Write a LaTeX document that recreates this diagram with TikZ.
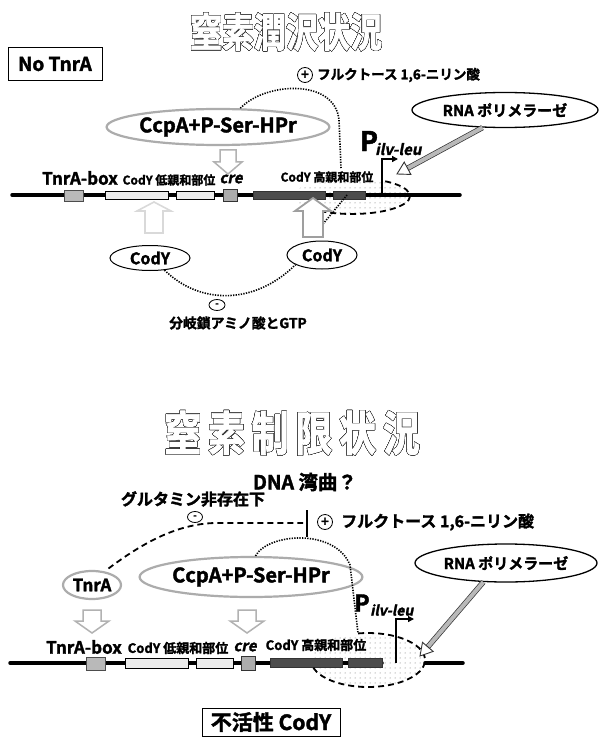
\documentclass[tikz,border=0pt]{standalone}
\usepackage{fontspec}
\setmainfont{Noto Sans CJK JP}[BoldFont={Noto Sans CJK JP Bold}, BoldFeatures={FakeBold=1.8}]
\usepackage[copies]{contour}
\usetikzlibrary{arrows.meta,patterns.meta,shapes.geometric,calc}
\contourlength{0.35pt}
\contournumber{32}
\newcommand\fsz[1]{\fontsize{#1}{#1}\selectfont}
\newcommand\slnt{\addfontfeatures{FakeSlant=0.2}}
% style, x, base y, head-base y, tip y, shaft half width, head half width
\newcommand\blkarr[7]{\draw[#1] (#2-#6,#3) -- (#2-#6,#4) -- (#2-#7,#4) -- (#2,#5) -- (#2+#7,#4) -- (#2+#6,#4) -- (#2+#6,#3) -- cycle;}
\tikzset{
  lbl/.style={inner sep=0pt, font=\bfseries},
  grayell/.style={ellipse, draw=gray!65, line width=2.2pt, inner sep=0pt, fill=white},
  blkell/.style={ellipse, draw=black, line width=1.3pt, inner sep=0pt, fill=white},
  dotline/.style={line width=1.6pt, dash pattern=on 1.3pt off 1.3pt},
  dashline/.style={line width=1.8pt, dash pattern=on 6pt off 4pt},
  dnaline/.style={line width=3.5pt, line cap=round},
  boxtnra/.style={fill=gray!55, draw=black!70, line width=0.6pt},
  boxlight/.style={fill=gray!15, draw=black, line width=0.6pt},
  boxcre/.style={fill=gray!65, draw=black!80, line width=0.6pt},
  boxdark/.style={fill=black!70, draw=black!80, line width=0.6pt},
  hollowdown/.style={draw=gray!60, line width=1.5pt, fill=white},
  fpfill/.style={pattern={Dots[distance=5pt,radius=0.5pt]}, pattern color=black!60},
  promo/.style={line width=1.3pt, -{Triangle[length=6pt,width=6pt]}},
  sign/.style={draw, line width=0.8pt, inner sep=0pt, font=\bfseries},
  hatch/.style={line width=0.7pt, draw=black!80, double=gray!55, double distance=4pt},
  tipst/.style={line width=0.9pt, draw=black!80, fill=white},
}
\begin{document}
\begin{tikzpicture}[x=1pt,y=-1pt]
\useasboundingbox (0,0) rectangle (600,738);
\fill[white] (0,0) rectangle (600,738);

% ================= TOP =================
\node[inner sep=0pt] (title1) at (286,32) {\fsz{40}\bfseries\addfontfeatures{FakeStretch=0.8}\contour{black!80}{\textcolor{white}{窒素潤沢状況}}};
\node[draw, line width=0.8pt, minimum width=94pt, minimum height=33pt, inner sep=0pt, font=\bfseries\fsz{19}] (notnra) at (55,64) {No TnrA};

\node[sign, circle, minimum size=15pt, font=\bfseries\fsz{13}] (plus1) at (305,75) {+};
\node[lbl, anchor=west, font=\bfseries\fsz{13.5}] (fru1) at (317,75) {フルクトース 1,6-ニリン酸};

% footprint
\coordinate (fp1) at (352,196);
\fill[fpfill] (fp1) ellipse [x radius=58, y radius=18];

\node[grayell, minimum width=180pt, minimum height=36pt, font=\bfseries\fsz{20}] (ccpa1) at (218,127) {CcpA+P-Ser-HPr};
\node[blkell, minimum width=186pt, minimum height=35pt, font=\bfseries\fsz{15}] (rna1) at (505,110) {RNA ポリメラーゼ};

\node[lbl, font=\bfseries\fsz{27}] (p1) at (369,141) {P};
\node[lbl, anchor=west, font=\bfseries\fsz{15}] (p1s) at (375,149) {\slnt ilv-leu};

\blkarr{hollowdown}{228}{150}{162}{174}{8}{14}

\node[lbl, font=\bfseries\fsz{17}] (tbox1) at (80,178) {TnrA-box};
\node[lbl, font=\bfseries\fsz{12}] (clow1) at (169,180) {CodY 低親和部位};
\node[lbl, font=\bfseries\fsz{15}] (cre1) at (231,179) {\slnt cre};
\node[lbl, font=\bfseries\fsz{12}] (chigh1) at (327,177) {CodY 高親和部位};

% DNA
\draw[dnaline] (12,195) -- (460,195);
\draw[boxtnra] (64,190) rectangle (83,201);
\draw[boxlight] (105,191) rectangle (168,199);
\draw[boxlight] (176,191) rectangle (214,199);
\draw[boxcre] (223,189) rectangle (237,201);
\draw[boxdark] (253,191) rectangle (325,199);
\draw[boxdark] (333,191) rectangle (365,199);

\draw[dashline] ($(fp1)+(-55:58 and 18)$) arc[start angle=-55, end angle=125, x radius=58, y radius=18];

\draw[promo] (382,195) -- (382,159) -- (398,159);

% fructose dotted connector
\coordinate (fa1) at (341,168);
\coordinate (fb1) at (347,195);
\coordinate (fc1) at (323,224);
\draw[dotline] (ccpa1.40) .. controls (265,82) and (335,78) .. (339,120) -- (fa1);
\draw[dotline] (fb1) -- (fc1);

% up arrows
\blkarr{draw=gray!30, line width=1.6pt, fill=white}{154}{233}{211}{202}{9}{17}
\blkarr{draw=gray!75, line width=1.8pt, fill=white}{313}{237}{211}{198}{10}{18}

\node[blkell, line width=1pt, minimum width=80pt, minimum height=25pt, font=\bfseries\fsz{16}] (codyL) at (150,258) {CodY};
\node[blkell, line width=1pt, minimum width=70pt, minimum height=28pt, font=\bfseries\fsz{16}] (codyR) at (322,255) {CodY};

\draw[dotline] (codyL.-40) .. controls (200,305) and (255,305) .. (codyR.200);
\node[sign, ellipse, minimum width=16pt, minimum height=11pt, font=\bfseries\fsz{9}] (minus1) at (217,305) {-};
\node[lbl, font=\bfseries\fsz{13.8}] (bcaa) at (238,323) {分岐鎖アミノ酸とGTP};

% hatched arrow top
\coordinate (t1) at (397,174);
\coordinate (h1) at ($(t1)!12pt!(rna1.218)$);
\draw[hatch] (rna1.218) -- (h1);
\draw[tipst] (t1) -- ($(h1)!7pt!90:(t1)$) -- ($(h1)!7pt!-90:(t1)$) -- cycle;

% ================= BOTTOM =================
\node[inner sep=0pt] (title2) at (292,433) {\fsz{47}\bfseries\addfontfeatures{FakeStretch=0.78,LetterSpace=15}\contour{black!80}{\textcolor{white}{窒素制限状況}}};
\node[lbl, font=\bfseries\fsz{19.5}] (dnabend) at (305,482) {DNA 湾曲？};
\node[lbl, font=\bfseries\fsz{16}] (glut) at (193,499) {グルタミン非存在下};
\node[sign, ellipse, minimum width=15pt, minimum height=11pt, font=\bfseries\fsz{9}] (minus2) at (195,517) {-};

\coordinate (bar2t) at (307,510);
\coordinate (bar2b) at (307,537);
\coordinate (bar2m) at (303,523);
\draw[line width=1.6pt] (bar2t) -- (bar2b);
\node[sign, circle, minimum size=15pt, font=\bfseries\fsz{13}] (plus2) at (325,522) {+};
\node[lbl, anchor=west, font=\bfseries\fsz{16}] (fru2) at (341,522) {フルクトース 1,6-ニリン酸};

% footprint bottom
\coordinate (fp2) at (368,660);
\fill[fpfill] (fp2) ellipse [x radius=57, y radius=27];

\node[grayell, minimum width=58pt, minimum height=28pt, font=\bfseries\fsz{17}] (tnra2) at (92,585) {TnrA};
\node[grayell, minimum width=178pt, minimum height=40pt, font=\bfseries\fsz{20}] (ccpa2) at (251,577) {CcpA+P-Ser-HPr};
\node[blkell, minimum width=182pt, minimum height=38pt, font=\bfseries\fsz{15}] (rna2) at (506,563) {RNA ポリメラーゼ};

\draw[dashline] ($(tnra2.45)+(3,-3)$) .. controls (140,545) and (175,524) .. (215,523) -- (bar2m);
\coordinate (fd2) at (358,633);
\draw[dotline] (ccpa2.78) .. controls (268,533) and (335,528) .. (350,565) -- (fd2);

\node[lbl, font=\bfseries\fsz{23}] (p2) at (362,603) {P};
\node[lbl, anchor=west, font=\bfseries\fsz{14}] (p2s) at (370,610) {\slnt ilv-leu};

\blkarr{hollowdown}{92}{610}{621}{633}{9}{17}
\blkarr{hollowdown}{247}{610}{621}{633}{9}{17}

\node[lbl, font=\bfseries\fsz{17}] (tbox2) at (84,647) {TnrA-box};
\node[lbl, font=\bfseries\fsz{13}] (clow2) at (178,648) {CodY 低親和部位};
\node[lbl, font=\bfseries\fsz{15}] (cre2) at (245,647) {\slnt cre};
\node[lbl, font=\bfseries\fsz{13}] (chigh2) at (316,645) {CodY 高親和部位};

\draw[dnaline] (10,663) -- (382,663);
\draw[dnaline] (425,663) -- (463,663);
\draw[boxtnra] (86,657) rectangle (105,670);
\draw[boxlight] (125,658) rectangle (188,668);
\draw[boxlight] (196,658) rectangle (233,668);
\draw[boxcre] (241,656) rectangle (255,670);
\draw[boxdark] (270,658) rectangle (342,667);
\draw[boxdark] (348,658) rectangle (382,667);

\draw[dashline] ($(fp2)+(-100:57 and 27)$) arc[start angle=-100, end angle=165, x radius=57, y radius=27];
\draw[promo] (396,663) -- (396,619) -- (414,619);

\coordinate (t2) at (420,656);
\coordinate (h2) at ($(t2)!12pt!(rna2.220)$);
\draw[hatch] (rna2.220) -- (h2);
\draw[tipst] (t2) -- ($(h2)!7pt!90:(t2)$) -- ($(h2)!7pt!-90:(t2)$) -- cycle;

\node[draw, line width=0.8pt, minimum width=138pt, minimum height=28pt, inner sep=0pt, font=\bfseries\fsz{21}] (inact) at (271,722) {不活性 CodY};
\end{tikzpicture}
\end{document}
